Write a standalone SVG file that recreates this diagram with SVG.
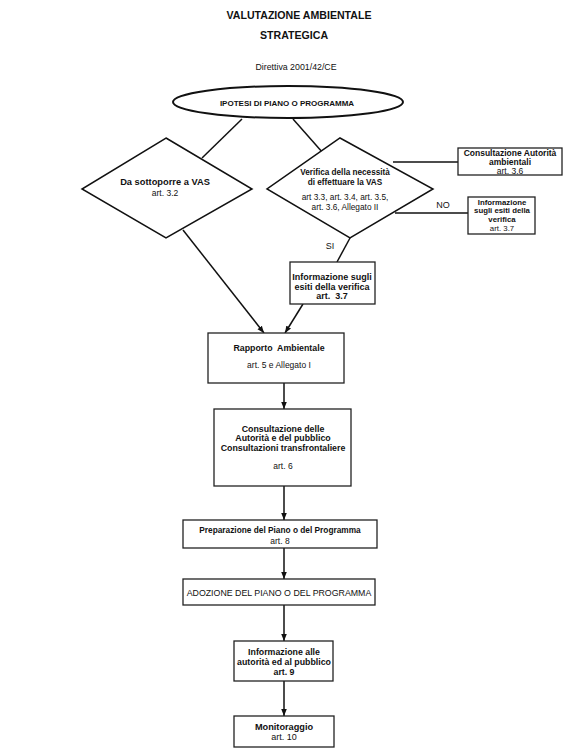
<svg xmlns="http://www.w3.org/2000/svg" width="571" height="752" viewBox="0 0 571 752">
<style>
text{font-family:"Liberation Sans",Arial,sans-serif;fill:#111;text-anchor:middle}
.b{font-weight:bold;font-size:8.8px}
.r{font-size:8.5px}
.t{font-weight:bold;font-size:10.6px}
.box{fill:#fff;stroke:#222;stroke-width:1.3}
.dia{fill:#fff;stroke:#111;stroke-width:1.5}
.ln{stroke:#111;stroke-width:1.5;fill:none}
</style>
<defs>
<marker id="ah" viewBox="0 0 10 10" refX="10" refY="5" markerWidth="7" markerHeight="7" orient="auto" markerUnits="userSpaceOnUse">
<path d="M0,1 L10,5 L0,9 z" fill="#111"/>
</marker>
</defs>
<g id="title">
<text class="t" x="299" y="19">VALUTAZIONE AMBIENTALE</text>
<text class="t" x="294" y="39">STRATEGICA</text>
<text class="r" x="296" y="70" style="font-size:8.8px">Direttiva 2001/42/CE</text>
</g>
<g id="connectors">
<line class="ln" x1="242" y1="119" x2="202" y2="158"/>
<line class="ln" x1="293" y1="119" x2="323" y2="153"/>
<line class="ln" x1="393" y1="162" x2="458" y2="162"/>
<line class="ln" x1="395" y1="213" x2="468" y2="213"/>
<line class="ln" x1="350" y1="238" x2="337" y2="262"/>
<line class="ln" x1="183" y1="230" x2="264" y2="333" marker-end="url(#ah)"/>
<line class="ln" x1="303" y1="304" x2="285" y2="333" marker-end="url(#ah)"/>
<line class="ln" x1="284" y1="383" x2="284" y2="409" marker-end="url(#ah)"/>
<line class="ln" x1="284" y1="486" x2="284" y2="520" marker-end="url(#ah)"/>
<line class="ln" x1="284" y1="548" x2="284" y2="579" marker-end="url(#ah)"/>
<line class="ln" x1="284" y1="605" x2="284" y2="641" marker-end="url(#ah)"/>
<line class="ln" x1="284" y1="681" x2="284" y2="716" marker-end="url(#ah)"/>
<text class="r" x="443" y="208" style="font-size:9px">NO</text>
<text class="r" x="330" y="249" style="font-size:9px">SI</text>
</g>
<g id="ipotesi">
<ellipse cx="288" cy="102" rx="115" ry="16" fill="#fff" stroke="#111" stroke-width="2"/>
<text class="b" x="287" y="106" style="font-size:8px">IPOTESI DI PIANO O PROGRAMMA</text>
</g>
<g id="da-sottoporre">
<polygon class="dia" points="166,138 252,189 166,238 82,189"/>
<text class="b" x="165" y="185" style="font-size:9.3px">Da sottoporre a VAS</text>
<text class="r" x="165" y="196">art. 3.2</text>
</g>
<g id="verifica">
<polygon class="dia" points="340,138 433,189 350,238 267,189"/>
<text class="b" x="345" y="175" style="font-size:8.2px">Verifica della necessità</text>
<text class="b" x="345" y="185" style="font-size:8.2px">di effettuare la VAS</text>
<text class="r" x="345" y="200" style="font-size:8.3px">art 3.3, art. 3.4, art. 3.5,</text>
<text class="r" x="345" y="210" style="font-size:8.3px">art. 3.6, Allegato II</text>
</g>
<g id="consultazione-autorita">
<rect class="box" x="458" y="148" width="104" height="27"/>
<text class="b" x="510" y="156" style="font-size:8.5px">Consultazione Autorità</text>
<text class="b" x="510" y="165" style="font-size:8.5px">ambientali</text>
<text class="r" x="510" y="174">art. 3.6</text>
</g>
<g id="info-esiti-no">
<rect class="box" x="468" y="197" width="67" height="37"/>
<text class="b" x="502" y="205" style="font-size:7.8px">Informazione</text>
<text class="b" x="502" y="213.3" style="font-size:7.8px">sugli esiti della</text>
<text class="b" x="502" y="221.6" style="font-size:7.8px">verifica</text>
<text class="r" x="502" y="230.5" style="font-size:7.8px">art. 3.7</text>
</g>
<g id="info-esiti-si">
<rect class="box" x="290" y="262" width="85" height="42"/>
<text class="b" x="332" y="280" style="font-size:9px">Informazione sugli</text>
<text class="b" x="332" y="290" style="font-size:9px">esiti della verifica</text>
<text class="b" x="332" y="299" style="font-size:9px" xml:space="preserve">art.  3.7</text>
</g>
<g id="rapporto">
<rect class="box" x="208" y="333" width="136" height="50"/>
<text class="b" x="279" y="351" xml:space="preserve">Rapporto  Ambientale</text>
<text class="r" x="279" y="368">art. 5 e Allegato I</text>
</g>
<g id="consultazione-pubblico">
<rect class="box" x="214" y="409" width="137" height="77"/>
<text class="b" x="283" y="432">Consultazione delle</text>
<text class="b" x="283" y="441">Autorità e del pubblico</text>
<text class="b" x="283" y="451">Consultazioni transfrontaliere</text>
<text class="r" x="283" y="469">art. 6</text>
</g>
<g id="preparazione">
<rect class="box" x="183" y="520" width="194" height="28"/>
<text class="b" x="280" y="533" style="font-size:8.3px">Preparazione del Piano o del Programma</text>
<text class="r" x="280" y="544">art. 8</text>
</g>
<g id="adozione">
<rect class="box" x="183" y="579" width="192" height="26"/>
<text class="r" x="279" y="596" style="font-size:8.8px">ADOZIONE DEL PIANO O DEL PROGRAMMA</text>
</g>
<g id="informazione-pubblico">
<rect class="box" x="234" y="641" width="99" height="40"/>
<text class="b" x="284" y="655">Informazione alle</text>
<text class="b" x="284" y="665">autorità ed al pubblico</text>
<text class="b" x="284" y="675">art. 9</text>
</g>
<g id="monitoraggio">
<rect class="box" x="234" y="716" width="100" height="31"/>
<text class="b" x="284" y="730" style="font-size:9.2px">Monitoraggio</text>
<text class="r" x="284" y="740" style="font-size:9px">art. 10</text>
</g>
</svg>
